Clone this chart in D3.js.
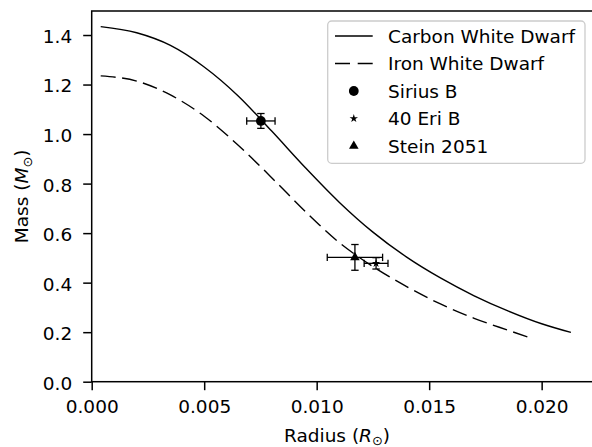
<!DOCTYPE html>
<html>
<head>
<meta charset="utf-8">
<script src="https://cdn.jsdelivr.net/npm/d3@7"></script>
<style>
  body { margin: 0; background: #fff; }
  text { font-family: "DejaVu Sans", sans-serif; }
</style>
</head>
<body>
<div id="chart"></div>
<script>
// curves (radius in solar radii, mass in solar masses)
const carbonRadius = [0.0004, 0.0020, 0.0035, 0.0050, 0.0065, 0.0080, 0.0095, 0.0110, 0.0125, 0.0140, 0.0155, 0.0170, 0.0185, 0.0200, 0.0213];
const carbonMass   = [1.434, 1.409, 1.358, 1.271, 1.155, 1.012, 0.864, 0.725, 0.604, 0.503, 0.419, 0.347, 0.286, 0.234, 0.199];

const ironRadius = [0.0004, 0.0020, 0.0035, 0.0050, 0.0065, 0.0080, 0.0095, 0.0110, 0.0125, 0.0140, 0.0155, 0.0170, 0.0185, 0.0196];
const ironMass   = [1.235, 1.214, 1.158, 1.072, 0.956, 0.824, 0.687, 0.562, 0.465, 0.384, 0.314, 0.256, 0.208, 0.174];

// observed white dwarfs
const starNames  = ["Sirius B", "40 Eri B", "Stein 2051"];
const starRadius = [0.00752, 0.01264, 0.0117];
const starMass   = [1.053, 0.478, 0.502];
const starRadErr = [0.00063, 0.00053, 0.00123];
const starMasErr = [0.030, 0.023, 0.052];
const starShapes = ["circle", "star", "triangle"];

const curveNames = ["Carbon White Dwarf", "Iron White Dwarf"];
const xTicks = [0, 0.005, 0.010, 0.015, 0.020];
const yTicks = [0, 0.2, 0.4, 0.6, 0.8, 1.0, 1.2, 1.4];

const width = 592, height = 447;
const margin = { top: 11, right: -2.3, bottom: 65.3, left: 91.7 };
const fontSize = 18.5;

const svg = d3.select("#chart").append("svg")
    .attr("width", width)
    .attr("height", height);

const x = d3.scaleLinear()
    .domain([0, 0.02234])
    .range([margin.left, width - margin.right]);
const y = d3.scaleLinear()
    .domain([0, 1.497])
    .range([height - margin.bottom, margin.top]);

// x axis
const gx = svg.append("g")
    .attr("transform", `translate(0,${height - margin.bottom})`)
    .call(d3.axisBottom(x).tickValues(xTicks).tickFormat(d3.format(".3f")).tickSize(8.5).tickPadding(10));
gx.select(".domain").remove();
gx.selectAll("line").attr("stroke-width", 1.5);
gx.selectAll("text").attr("font-size", fontSize).attr("font-family", "DejaVu Sans").attr("fill", "#000");

// y axis
const gy = svg.append("g")
    .attr("transform", `translate(${margin.left},0)`)
    .call(d3.axisLeft(y).tickValues(yTicks).tickFormat(d3.format(".1f")).tickSize(8.5).tickPadding(11));
gy.select(".domain").remove();
gy.selectAll("line").attr("stroke-width", 1.5);
gy.selectAll("text").attr("font-size", fontSize).attr("font-family", "DejaVu Sans").attr("fill", "#000").attr("dy", "0.4em");

// spines
svg.append("rect")
    .attr("x", margin.left)
    .attr("y", margin.top)
    .attr("width", width - margin.right - margin.left)
    .attr("height", height - margin.bottom - margin.top)
    .attr("fill", "none")
    .attr("stroke", "#000")
    .attr("stroke-width", 1.5);

// curves
const line = d3.line()
    .x(d => x(d[0]))
    .y(d => y(d[1]))
    .curve(d3.curveMonotoneX);

svg.append("path")
    .datum(d3.zip(carbonRadius, carbonMass))
    .attr("d", line)
    .attr("fill", "none")
    .attr("stroke", "#000")
    .attr("stroke-width", 1.4);

svg.append("path")
    .datum(d3.zip(ironRadius, ironMass))
    .attr("d", line)
    .attr("fill", "none")
    .attr("stroke", "#000")
    .attr("stroke-width", 1.4)
    .attr("stroke-dasharray", "15,6.5");

// error bars
const cap = 3.7;
const stars = starNames.map((n, i) => ({
    name: n, r: starRadius[i], m: starMass[i], dr: starRadErr[i], dm: starMasErr[i], shape: starShapes[i]
}));

const eb = svg.append("g").attr("stroke", "#000").attr("stroke-width", 1.3);
stars.forEach(d => {
    const cx = x(d.r), cy = y(d.m);
    const x0 = x(d.r - d.dr), x1 = x(d.r + d.dr);
    const y0 = y(d.m - d.dm), y1 = y(d.m + d.dm);
    eb.append("line").attr("x1", x0).attr("x2", x1).attr("y1", cy).attr("y2", cy);
    eb.append("line").attr("x1", cx).attr("x2", cx).attr("y1", y0).attr("y2", y1);
    eb.append("line").attr("x1", x0).attr("x2", x0).attr("y1", cy - cap).attr("y2", cy + cap);
    eb.append("line").attr("x1", x1).attr("x2", x1).attr("y1", cy - cap).attr("y2", cy + cap);
    eb.append("line").attr("x1", cx - cap).attr("x2", cx + cap).attr("y1", y0).attr("y2", y0);
    eb.append("line").attr("x1", cx - cap).attr("x2", cx + cap).attr("y1", y1).attr("y2", y1);
});

function symbolPath(shape) {
    if (shape === "circle") return d3.symbol(d3.symbolCircle, 75)();
    if (shape === "star") return d3.symbol(d3.symbolStar, 22)();
    return d3.symbol(d3.symbolTriangle, 40)();
}

svg.selectAll(".star-mark")
    .data(stars)
    .enter()
    .append("path")
    .attr("class", "star-mark")
    .attr("d", d => symbolPath(d.shape))
    .attr("transform", d => `translate(${x(d.r)},${y(d.m)})`)
    .attr("fill", "#000");

// legend
const legend = svg.append("g");
legend.append("rect")
    .attr("x", 327.7)
    .attr("y", 21)
    .attr("width", 257.3)
    .attr("height", 142.3)
    .attr("rx", 4)
    .attr("fill", "#fff")
    .attr("fill-opacity", 0.8)
    .attr("stroke", "#cccccc")
    .attr("stroke-width", 1.3);

const rowY = i => 36 + i * 27.5;
const labels = curveNames.concat(starNames);

legend.append("line")
    .attr("x1", 335).attr("x2", 372.7)
    .attr("y1", rowY(0)).attr("y2", rowY(0))
    .attr("stroke", "#000").attr("stroke-width", 1.4);
legend.append("line")
    .attr("x1", 335).attr("x2", 372.7)
    .attr("y1", rowY(1)).attr("y2", rowY(1))
    .attr("stroke", "#000").attr("stroke-width", 1.4)
    .attr("stroke-dasharray", "15,7.7");

stars.forEach((d, i) => {
    legend.append("path")
        .attr("d", symbolPath(d.shape))
        .attr("transform", `translate(353.8,${rowY(i + 2)})`)
        .attr("fill", "#000");
});

labels.forEach((t, i) => {
    legend.append("text")
        .attr("x", 388)
        .attr("y", rowY(i) + 6.7)
        .attr("font-size", fontSize)
        .text(t);
});

// axis labels
const xl = svg.append("text")
    .attr("x", 337)
    .attr("y", 441.7)
    .attr("text-anchor", "middle")
    .attr("font-size", fontSize);
xl.append("tspan").text("Radius (");
xl.append("tspan").attr("font-style", "italic").text("R");
xl.append("tspan").attr("font-size", fontSize * 0.7).attr("dy", 3.5).text("⊙");
xl.append("tspan").attr("dy", -3.5).text(")");

const yl = svg.append("text")
    .attr("transform", `translate(28.3,${(margin.top + height - margin.bottom) / 2}) rotate(-90)`)
    .attr("text-anchor", "middle")
    .attr("font-size", fontSize);
yl.append("tspan").text("Mass (");
yl.append("tspan").attr("font-style", "italic").text("M");
yl.append("tspan").attr("font-size", fontSize * 0.7).attr("dy", 3.5).text("⊙");
yl.append("tspan").attr("dy", -3.5).text(")");
</script>
</body>
</html>
